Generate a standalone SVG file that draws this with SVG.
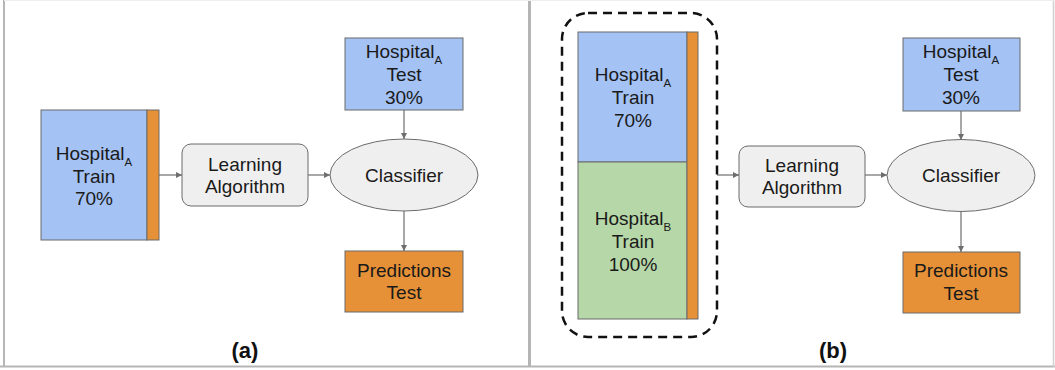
<svg xmlns="http://www.w3.org/2000/svg" width="1055" height="370" viewBox="0 0 1055 370">
<defs>
<style>
text{font-family:"Liberation Sans",Arial,sans-serif;font-size:19px;fill:#1a1a1a;text-anchor:middle}
.sub{font-size:11.5px}
.lbl{font-weight:bold;font-size:22px;fill:#111}
.blue{fill:#a4c2f4;stroke:#6b6b6b;stroke-width:1}
.green{fill:#b6d7a8;stroke:#6b6b6b;stroke-width:1}
.orange{fill:#e69138;stroke:#6b6b6b;stroke-width:1}
.gray{fill:#efefef;stroke:#6b6b6b;stroke-width:1}
.conn{stroke:#6e6e6e;stroke-width:1.2;fill:none;marker-end:url(#ah)}
</style>
<marker id="ah" viewBox="0 0 10 10" refX="10" refY="5" markerWidth="6" markerHeight="6" markerUnits="userSpaceOnUse" orient="auto">
<path d="M0,0 L10,5 L0,10 z" fill="#6e6e6e"/>
</marker>
</defs>
<rect width="1055" height="370" fill="#ffffff"/>
<g id="frame" fill="none">
<line x1="4" y1="0" x2="4" y2="367" stroke="#b5b5b5" stroke-width="2"/>
<line x1="529.5" y1="0" x2="529.5" y2="367" stroke="#b5b5b5" stroke-width="3"/>
<line x1="0" y1="366.5" x2="1055" y2="366.5" stroke="#b5b5b5" stroke-width="2"/>
<line x1="1053.5" y1="0" x2="1053.5" y2="367" stroke="#d0d0d0" stroke-width="1.5"/>
<line x1="4" y1="0.5" x2="1055" y2="0.5" stroke="#eeeeee" stroke-width="1"/>
</g>
<g id="connectors">
<line class="conn" x1="159" y1="175" x2="182" y2="175"/>
<line class="conn" x1="308" y1="175" x2="330" y2="175"/>
<line class="conn" x1="404" y1="110" x2="404" y2="139"/>
<line class="conn" x1="404" y1="211" x2="404" y2="251"/>
<line class="conn" x1="717" y1="175" x2="739" y2="175"/>
<line class="conn" x1="865" y1="175" x2="887" y2="175"/>
<line class="conn" x1="961" y1="111" x2="961" y2="140"/>
<line class="conn" x1="961" y1="211" x2="961" y2="252"/>
</g>
<g id="a-train">
<rect class="blue" x="41" y="110" width="106" height="130"/>
<rect class="orange" x="147" y="110" width="12" height="130"/>
<text x="94" y="160">Hospital<tspan class="sub" dy="6">A</tspan></text>
<text x="94" y="183">Train</text>
<text x="94" y="205">70%</text>
</g>
<g id="a-learning">
<rect class="gray" x="182" y="144" width="126" height="62" rx="9"/>
<text x="245" y="171">Learning</text>
<text x="245" y="193">Algorithm</text>
</g>
<g id="a-classifier">
<ellipse class="gray" cx="404" cy="175" rx="74" ry="36"/>
<text x="404" y="182">Classifier</text>
</g>
<g id="a-test">
<rect class="blue" x="345" y="38" width="118" height="72"/>
<text x="404" y="58">Hospital<tspan class="sub" dy="6">A</tspan></text>
<text x="404" y="81">Test</text>
<text x="404" y="104">30%</text>
</g>
<g id="a-pred">
<rect class="orange" x="345" y="251" width="118" height="61"/>
<text x="404" y="277">Predictions</text>
<text x="404" y="299">Test</text>
</g>
<text id="label-a" class="lbl" x="245" y="358">(a)</text>
<g id="b-group">
<rect x="562" y="13" width="155" height="324" rx="26" fill="none" stroke="#111" stroke-width="2.5" stroke-dasharray="9 6"/>
</g>
<g id="b-trainA">
<rect class="blue" x="578" y="32" width="109" height="130"/>
<text x="633" y="81">Hospital<tspan class="sub" dy="6">A</tspan></text>
<text x="633" y="104">Train</text>
<text x="633" y="127">70%</text>
</g>
<g id="b-trainB">
<rect class="green" x="578" y="162" width="109" height="157"/>
<text x="633" y="225">Hospital<tspan class="sub" dy="6">B</tspan></text>
<text x="633" y="248">Train</text>
<text x="633" y="271">100%</text>
</g>
<g id="b-bar">
<rect class="orange" x="687" y="32" width="11" height="287"/>
</g>
<g id="b-learning">
<rect class="gray" x="739" y="146" width="126" height="61" rx="9"/>
<text x="802" y="172">Learning</text>
<text x="802" y="194">Algorithm</text>
</g>
<g id="b-classifier">
<ellipse class="gray" cx="961" cy="175.5" rx="74" ry="36"/>
<text x="961" y="182">Classifier</text>
</g>
<g id="b-test">
<rect class="blue" x="903" y="38" width="117" height="73"/>
<text x="961" y="58">Hospital<tspan class="sub" dy="6">A</tspan></text>
<text x="961" y="81">Test</text>
<text x="961" y="104">30%</text>
</g>
<g id="b-pred">
<rect class="orange" x="903" y="252" width="117" height="61"/>
<text x="961" y="277">Predictions</text>
<text x="961" y="300">Test</text>
</g>
<text id="label-b" class="lbl" x="833" y="358">(b)</text>
</svg>
